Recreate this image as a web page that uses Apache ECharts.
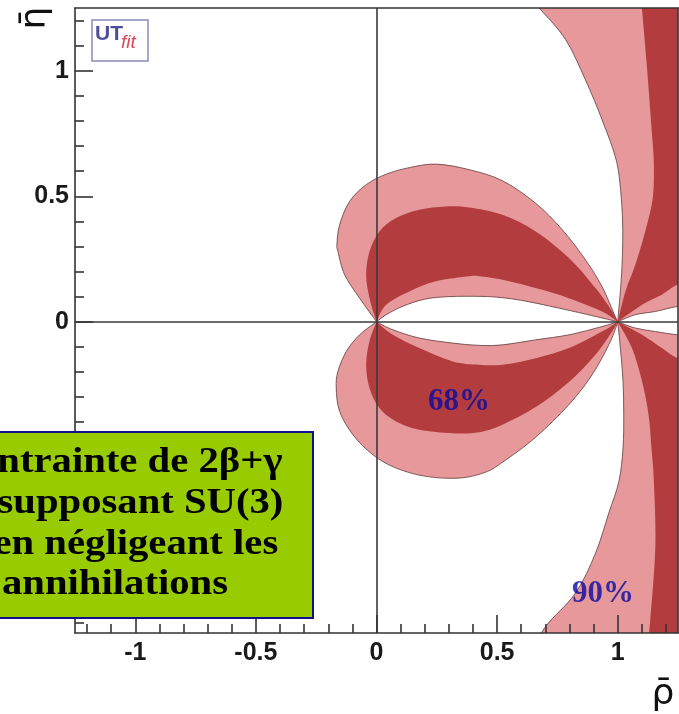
<!DOCTYPE html>
<html>
<head>
<meta charset="utf-8">
<script src="https://cdn.jsdelivr.net/npm/echarts@6/dist/echarts.min.js"></script>
<style>
  html, body { margin: 0; padding: 0; background: #ffffff; }
  #chart { width: 679px; height: 714px; }
</style>
</head>
<body>
<div id="chart"></div>
<script>
// Axis ranges of the (rho-bar, eta-bar) plane
const rhoRange = [-1.25, 1.25];
const etaRange = [-1.24, 1.25];
const majorTicks = [-1, -0.5, 0, 0.5, 1];
const minorTicks = [-1.2, -1.1, -0.9, -0.8, -0.7, -0.6, -0.4, -0.3, -0.2, -0.1,
                    0.1, 0.2, 0.3, 0.4, 0.6, 0.7, 0.8, 0.9, 1.1, 1.2];

// Upper petal contours, from (0,0) to (1,0)
const upper90Outer = [[0,0],[-0.070,0.094],[-0.132,0.187],[-0.160,0.280],[-0.164,0.310],[-0.153,0.386],
  [-0.112,0.479],[-0.043,0.546],[0.040,0.588],[0.136,0.614],[0.247,0.628],[0.384,0.606],[0.522,0.562],
  [0.660,0.472],[0.770,0.367],[0.866,0.247],[0.935,0.140],[0.990,0.020],[1,0]];
const upper90Inner = [[0,0],[0.040,0.028],[0.107,0.061],[0.200,0.090],[0.300,0.100],[0.430,0.101],
  [0.520,0.096],[0.630,0.080],[0.800,0.045],[0.935,0.015],[1,0]];
const upper68Outer = [[0,0],[-0.029,0.094],[-0.043,0.187],[-0.029,0.280],[0.012,0.360],[0.081,0.413],
  [0.178,0.446],[0.288,0.459],[0.384,0.455],[0.522,0.426],[0.660,0.360],[0.798,0.254],[0.908,0.134],
  [0.977,0.041],[1,0]];
const upper68Inner = [[0,0],[0.040,0.068],[0.136,0.121],[0.247,0.161],[0.384,0.181],[0.426,0.181],
  [0.522,0.167],[0.660,0.134],[0.798,0.094],[0.935,0.041],[1,0]];

// Lower petal contours, from (0,0) to (1,0)
const lower90Outer = [[0,0],[-0.070,-0.052],[-0.125,-0.118],[-0.160,-0.198],[-0.167,-0.264],[-0.153,-0.357],
  [-0.098,-0.450],[-0.015,-0.530],[0.081,-0.583],[0.205,-0.616],[0.343,-0.623],[0.450,-0.600],[0.522,-0.560],
  [0.660,-0.460],[0.798,-0.330],[0.894,-0.211],[0.963,-0.092],[0.997,-0.012],[1,0]];
const lower90Inner = [[0,0],[0.068,-0.032],[0.178,-0.065],[0.316,-0.085],[0.426,-0.094],[0.522,-0.092],
  [0.660,-0.072],[0.798,-0.052],[0.935,-0.019],[1,0]];
const lower68Outer = [[0,0],[-0.029,-0.078],[-0.043,-0.171],[-0.029,-0.264],[0.012,-0.344],[0.081,-0.397],
  [0.178,-0.430],[0.316,-0.444],[0.426,-0.440],[0.522,-0.410],[0.660,-0.340],[0.798,-0.240],[0.908,-0.131],
  [0.977,-0.039],[1,0]];
const lower68Inner = [[0,0],[0.068,-0.052],[0.178,-0.105],[0.316,-0.158],[0.426,-0.171],[0.522,-0.171],
  [0.660,-0.145],[0.798,-0.105],[0.935,-0.039],[1,0]];

// Bands leaving (1,0) towards the right-hand corners (run past the frame, clipped there)
const upBand90Left = [[1,0],[1.011,0.121],[1.018,0.227],[1.021,0.360],[1.015,0.490],[0.995,0.640],
  [0.935,0.805],[0.866,0.964],[0.784,1.124],[0.674,1.250],[0.600,1.320]];
const upBand90Right = [[1.320,0.066],[1.248,0.061],[1.156,0.041],[1.073,0.028],[1,0]];
const upBand68Left = [[1,0],[1.032,0.121],[1.073,0.227],[1.114,0.360],[1.145,0.490],[1.150,0.625],
  [1.142,0.750],[1.121,1.017],[1.100,1.250],[1.090,1.320]];
const upBand68Right = [[1.320,0.155],[1.248,0.147],[1.183,0.108],[1.101,0.068],[1,0]];
const upCorner = [[1.320,1.320]];

const lowBand90Left = [[1,0],[1.011,-0.105],[1.022,-0.238],[1.025,-0.371],[1.022,-0.503],[1.005,-0.636],
  [0.963,-0.762],[0.908,-0.922],[0.825,-1.081],[0.701,-1.214],[0.640,-1.320]];
const lowBand90Right = [[1.320,-0.056],[1.248,-0.052],[1.156,-0.039],[1.073,-0.025],[1,0]];
const lowBand68Left = [[1,0],[1.059,-0.105],[1.101,-0.238],[1.128,-0.371],[1.140,-0.503],[1.150,-0.636],
  [1.156,-0.896],[1.135,-1.187],[1.120,-1.320]];
const lowBand68Right = [[1.320,-0.150],[1.248,-0.145],[1.183,-0.105],[1.101,-0.052],[1,0]];
const lowCorner = [[1.320,-1.320]];

// Percentage tags placed in data space
const tagText = ['68%', '90%'];
const tagPos = [[0.342, -0.32], [0.939, -1.085]];

// Each region is a chain of contour pieces; every piece is smoothed on its own
const rev = a => a.slice().reverse();
const regions90 = [
  [upper90Outer, rev(upper90Inner)],
  [lower90Outer, rev(lower90Inner)],
  [upBand90Left, upCorner, upBand90Right],
  [lowBand90Left, lowCorner, lowBand90Right]
];
const regions68 = [
  [upper68Outer, rev(upper68Inner)],
  [lower68Outer, rev(lower68Inner)],
  [upBand68Left, upCorner, upBand68Right],
  [lowBand68Left, lowCorner, lowBand68Right]
];

const LIGHT = '#e6989b';
const DARK = '#b33d3e';
const AXIS = '#333333';

const fmt = p => p[0].toFixed(2) + ' ' + p[1].toFixed(2);

// Catmull-Rom pieces turned into cubic Bezier path data, in pixel space
function regionPath(pieces, api) {
  let d = '';
  pieces.forEach((piece, k) => {
    const p = piece.map(v => api.coord(v));
    d += (k === 0 ? 'M' : 'L') + fmt(p[0]);
    for (let i = 0; i < p.length - 1; i++) {
      const p0 = p[i - 1] || p[i], p1 = p[i], p2 = p[i + 1], p3 = p[i + 2] || p[i + 1];
      const c1 = [p1[0] + (p2[0] - p0[0]) / 6, p1[1] + (p2[1] - p0[1]) / 6];
      const c2 = [p2[0] - (p3[0] - p1[0]) / 6, p2[1] - (p3[1] - p1[1]) / 6];
      d += 'C' + fmt(c1) + ' ' + fmt(c2) + ' ' + fmt(p2);
    }
  });
  return d + 'Z';
}

function regionRenderer(regions, fill, stroke) {
  return function (params, api) {
    const cs = params.coordSys;
    return {
      type: 'path',
      shape: { pathData: regionPath(regions[params.dataIndex], api) },
      style: { fill: fill, stroke: stroke || null, lineWidth: stroke ? 1 : 0 },
      clipPath: { type: 'rect', shape: { x: cs.x, y: cs.y, width: cs.width, height: cs.height } }
    };
  };
}

const tickFont = { fontFamily: 'Liberation Sans, Arial, sans-serif', fontWeight: 'bold', fontSize: 25, color: '#1a1a1a' };

function axisSet(dim) {
  const range = dim === 'x' ? rhoRange : etaRange;
  const main = {
    type: 'value', min: range[0], max: range[1], z: 10,
    position: dim === 'x' ? 'bottom' : 'left',
    axisLine: { show: true, onZero: false, lineStyle: { color: AXIS, width: 1.6 } },
    axisTick: { show: true, inside: true, length: 18, customValues: majorTicks, lineStyle: { color: AXIS, width: 1.6 } },
    axisLabel: Object.assign({ show: true, customValues: majorTicks, margin: dim === 'x' ? 8 : 6,
      formatter: v => String(v) }, tickFont),
    splitLine: { show: false }
  };
  const minor = {
    type: 'value', min: range[0], max: range[1], z: 10,
    position: dim === 'x' ? 'bottom' : 'left',
    axisLine: { show: false, onZero: false },
    axisTick: { show: true, inside: true, length: 9, customValues: minorTicks, lineStyle: { color: AXIS, width: 1.6 } },
    axisLabel: { show: false },
    splitLine: { show: false }
  };
  const frame = {
    type: 'value', min: range[0], max: range[1], z: 10,
    position: dim === 'x' ? 'top' : 'right',
    axisLine: { show: true, onZero: false, lineStyle: { color: AXIS, width: 1.6 } },
    axisTick: { show: false }, axisLabel: { show: false }, splitLine: { show: false }
  };
  return [main, minor, frame];
}

const boxFont = 'bold 36px Liberation Serif, Times New Roman, serif';
const boxLines = ['Contrainte de 2β+γ', 'en supposant SU(3)', 'et en négligeant les', 'annihilations'];

const chart = echarts.init(document.getElementById('chart'), null, { renderer: 'canvas' });

const option = {
  animation: false,
  backgroundColor: '#ffffff',
  grid: { left: 75, right: 1, top: 8, bottom: 81, containLabel: false },
  xAxis: axisSet('x'),
  yAxis: axisSet('y'),
  series: [
    {
      name: '90%', type: 'custom', z: 2, clip: true,
      xAxisIndex: 0, yAxisIndex: 0,
      renderItem: regionRenderer(regions90, LIGHT, 'rgba(90,50,50,0.75)'),
      data: regions90.map((_, i) => [0, 0, i])
    },
    {
      name: '68%', type: 'custom', z: 3, clip: true,
      xAxisIndex: 0, yAxisIndex: 0,
      renderItem: regionRenderer(regions68, DARK, null),
      data: regions68.map((_, i) => [0, 0, i])
    },
    {
      name: 'origin lines', type: 'line', z: 6, xAxisIndex: 0, yAxisIndex: 0,
      data: [], silent: true,
      markLine: {
        silent: true, symbol: ['none', 'none'], animation: false,
        label: { show: false },
        lineStyle: { color: '#3a3a3a', width: 1.6, type: 'solid' },
        data: [{ xAxis: 0 }, { yAxis: 0 }]
      }
    },
    {
      name: 'tags', type: 'scatter', z: 7, xAxisIndex: 0, yAxisIndex: 0,
      symbolSize: 0, silent: true,
      data: tagPos.map((p, i) => ({ value: p, name: tagText[i] })),
      label: {
        show: true, position: 'inside', formatter: p => p.name,
        fontFamily: 'Liberation Serif, Times New Roman, serif', fontWeight: 'bold',
        fontSize: 31, color: '#0a0aa0'
      }
    }
  ],
  graphic: [
    // UTfit badge
    { type: 'rect', z: 20, shape: { x: 92, y: 20, width: 56, height: 41 },
      style: { fill: '#ffffff', stroke: '#8a8ab8', lineWidth: 1.5 } },
    { type: 'text', z: 21, x: 95, y: 24,
      style: { text: 'UT', fill: '#4d4d9c', font: 'bold 21px Liberation Sans, Arial, sans-serif' } },
    { type: 'text', z: 21, x: 121, y: 33,
      style: { text: 'fit', fill: '#d9475a', font: 'italic 19px Liberation Sans, Arial, sans-serif' } },
    // axis titles
    { type: 'text', x: 36, y: 18, rotation: Math.PI / 2, z: 20,
      style: { text: 'η\u0304', fill: '#111', font: '36px DejaVu Sans, sans-serif', align: 'center', verticalAlign: 'middle' } },
    { type: 'text', x: 663, y: 695, z: 20,
      style: { text: 'ρ\u0304', fill: '#111', font: '36px DejaVu Sans, sans-serif', align: 'center', verticalAlign: 'middle' } },
    // caption box
    { type: 'rect', z: 30, shape: { x: -90, y: 432, width: 403, height: 186 },
      style: { fill: '#99cc00', stroke: '#10108a', lineWidth: 2 } }
  ].concat(boxLines.map((t, i) => ({
    type: 'text', z: 31, x: 115, y: 463 + i * 40.7, scaleX: 1.13,
    style: { text: t, fill: '#000', font: boxFont, align: 'center', verticalAlign: 'middle' }
  })))
};

chart.setOption(option);
</script>
</body>
</html>
